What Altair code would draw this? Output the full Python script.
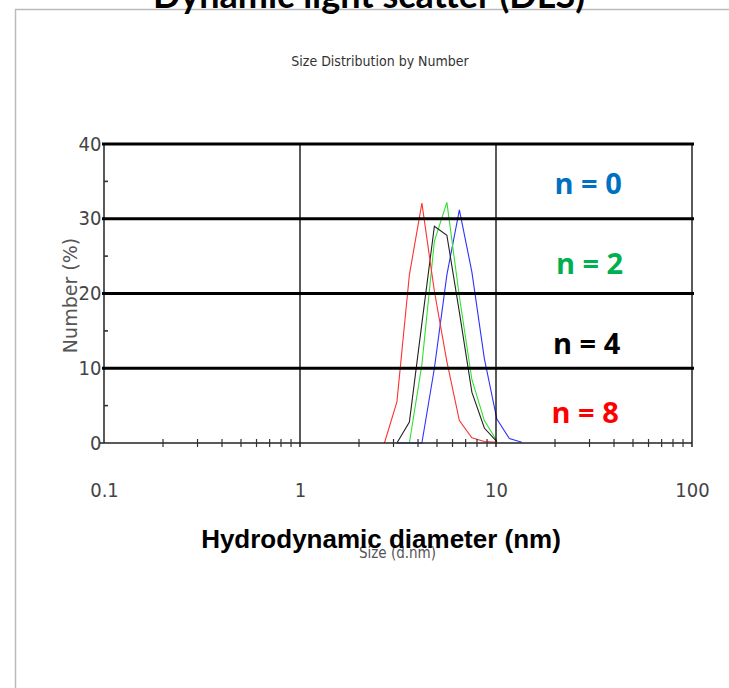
import altair as alt
import pandas as pd

# ---------------- data ----------------
sizes = [2.696, 3.122, 3.615, 4.187, 4.849, 5.615, 6.503, 7.531, 8.721, 10.10, 11.70, 13.54]
n0 = [None, 0, 0, 0, 10.0, 22.5, 31.2, 22.9, 11.3, 3.2, 0.6, 0.1]
n2 = [None, None, 0, 10.5, 27.0, 32.2, 19.6, 8.5, 3.0, 0.3, None, None]
n4 = [None, 0, 2.8, 16.0, 29.0, 27.8, 17.5, 6.8, 2.0, 0.2, None, None]
n8 = [0, 5.5, 22.5, 32.1, 20.3, 10.9, 3.0, 0.7, 0.2, 0.1, None, None]
series_names = ["n = 0", "n = 2", "n = 4", "n = 8"]
line_colors = ["#3030ff", "#30e030", "#222222", "#ff3030"]
label_colors = ["#0070C0", "#00B050", "#000000", "#FF0000"]

x_tick_values = [0.1, 1, 10, 100]
x_minor = [0.2, 0.3, 0.4, 0.5, 0.6, 0.7, 0.8, 0.9,
           2, 3, 4, 5, 6, 7, 8, 9,
           20, 30, 40, 50, 60, 70, 80, 90]
y_tick_values = [0, 10, 20, 30, 40]
y_minor = [5, 15, 25, 35]
h_grid = [10, 20, 30, 40]
v_grid = [1, 10, 100]

# annotation anchor points (data coordinates)
ann_x = [29.5, 30, 29, 28.5]
ann_y = [34.5, 23.8, 13.1, 3.9]

rows = []
for name, vals in zip(series_names, [n0, n2, n4, n8]):
    for s, v in zip(sizes, vals):
        if v is not None:
            rows.append({"size": s, "value": v, "series": name})
df = pd.DataFrame(rows)

W, H = 588, 299
OX, OY = 104, 144
NARROW = "Liberation Sans Narrow, Arial Narrow, DejaVu Sans Condensed, sans-serif"

xs = alt.Scale(type="log", domain=[0.1, 100], nice=False)
ys = alt.Scale(domain=[0, 40], nice=False, zero=False)

XAX = alt.Axis(values=x_tick_values, ticks=False, domain=False, grid=False,
               labelPadding=37, labelFontSize=20, labelFont=NARROW,
               labelColor="#444444", labelFlush=False,
               labelExpr="datum.value < 1 ? format(datum.value, '.1f') : format(datum.value, 'd')",
               title="Size (d.nm)", titleFont=NARROW, titleFontSize=15,
               titleFontWeight="normal", titleColor="#555555",
               titleX=293, titleY=109, titleAlign="center", titleBaseline="middle")
YAX = alt.Axis(values=y_tick_values, ticks=False, domain=False, grid=False,
               labelPadding=3, labelFontSize=20, labelFont=NARROW,
               labelColor="#444444", labelFlush=False,
               title="Number (%)", titleFont="DejaVu Sans", titleFontSize=19,
               titleFontWeight="normal", titleColor="#555555",
               titleX=-34, titleY=151, titleAngle=270,
               titleAlign="center", titleBaseline="middle")

def X(f):
    return alt.X(f, scale=xs, axis=XAX)

def Y(f):
    return alt.Y(f, scale=ys, axis=YAX)

lines = alt.Chart(df).mark_line(strokeWidth=1.1).encode(
    x=X("size:Q"), y=Y("value:Q"),
    color=alt.Color("series:N", scale=alt.Scale(domain=series_names, range=line_colors), legend=None),
    order=alt.Order("size:Q"),
)

hg = alt.Chart(pd.DataFrame({"v": h_grid})).mark_rule(strokeWidth=3, color="#000000").encode(
    y=Y("v:Q"), x=alt.value(-2), x2=alt.value(W + 2))
vg = alt.Chart(pd.DataFrame({"v": v_grid})).mark_rule(strokeWidth=1.3, color="#000000").encode(
    x=X("v:Q"), y=alt.value(0), y2=alt.value(H + 4))
left_axis = alt.Chart(pd.DataFrame({"v": [0]})).mark_rule(strokeWidth=1.3, color="#000000").encode(
    x=alt.value(0), y=alt.value(0), y2=alt.value(H))
bottom_axis = alt.Chart(pd.DataFrame({"v": [0]})).mark_rule(strokeWidth=1.6, color="#222222").encode(
    y=alt.value(H), x=alt.value(-4), x2=alt.value(W))
xminor = alt.Chart(pd.DataFrame({"v": x_minor})).mark_rule(strokeWidth=1.2, color="#333333").encode(
    x=X("v:Q"), y=alt.value(H - 4), y2=alt.value(H + 4))
yminor = alt.Chart(pd.DataFrame({"v": y_minor})).mark_rule(strokeWidth=1.6, color="#333333").encode(
    y=Y("v:Q"), x=alt.value(0), x2=alt.value(4))

ann = alt.Chart(pd.DataFrame({"t": series_names, "x": ann_x, "y": ann_y, "c": label_colors})).mark_text(
    font="Open Sans", fontWeight="bold", fontSize=29, align="center", baseline="middle").encode(
    x=X("x:Q"), y=Y("y:Q"),
    text="t:N", color=alt.Color("c:N", scale=None))

def txt(s, x, y, **kw):
    return alt.Chart(pd.DataFrame({"t": [s]})).mark_text(**kw).encode(
        text="t:N", x=alt.value(x - OX), y=alt.value(y - OY))

sub_title = txt("Size Distribution by Number", 380, 62, font=NARROW, fontSize=14,
                color="#333333", align="center", baseline="middle")
big_xlabel = txt("Hydrodynamic diameter (nm)", 381, 540, font="Liberation Sans", fontSize=26,
                 fontWeight="bold", color="#000000", align="center", baseline="middle")
cut_title = txt("Dynamic light scatter (DLS)", 369, 8, font="Lato", fontSize=36,
                fontWeight="bold", color="#000000", align="center", baseline="alphabetic")

frame_top = alt.Chart(pd.DataFrame({"v": [0]})).mark_rule(strokeWidth=1.5, color="#bbbbbb").encode(
    y=alt.value(9.5 - OY), x=alt.value(15 - OX), x2=alt.value(729 - OX))
frame_left = alt.Chart(pd.DataFrame({"v": [0]})).mark_rule(strokeWidth=1.5, color="#bbbbbb").encode(
    x=alt.value(15.5 - OX), y=alt.value(9.5 - OY), y2=alt.value(688 - OY))

chart = alt.layer(
    lines,
    frame_top, frame_left, cut_title, sub_title,
    hg, vg, left_axis, bottom_axis, xminor, yminor,
    ann, big_xlabel,
).properties(
    width=W, height=H,
    background="white",
    autosize=alt.AutoSizeParams(type="none"),
    padding={"left": OX, "top": OY, "right": 729 - OX - W, "bottom": 688 - OY - H},
).configure_view(stroke=None)

chart.save("out.html", embed_options={"renderer": "svg", "actions": False})
